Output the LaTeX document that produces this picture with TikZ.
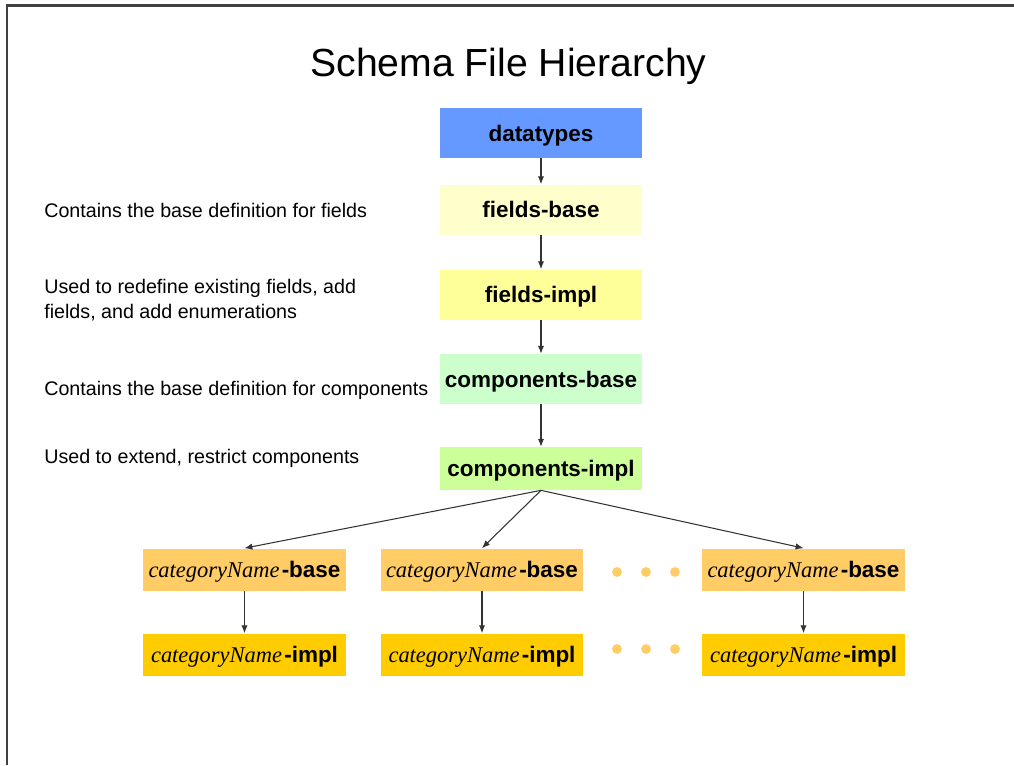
\documentclass[tikz,border=0pt]{standalone}
\usepackage{fontspec}
\setmainfont{Liberation Sans}
\newfontfamily\serifit{Liberation Serif}
\usetikzlibrary{arrows.meta}

\definecolor{dtblue}{HTML}{6699FF}
\definecolor{fbaseyel}{HTML}{FFFFCC}
\definecolor{fimplyel}{HTML}{FFFF99}
\definecolor{cbasegrn}{HTML}{CCFFCC}
\definecolor{cimplgrn}{HTML}{CCFF99}
\definecolor{catbaseorg}{HTML}{FFCC66}
\definecolor{catimplorg}{HTML}{FFCC00}
\definecolor{framegray}{HTML}{404040}

\newcommand{\catname}[1]{{\serifit\itshape\mdseries categoryName\/}\kern1.2pt-#1}

\tikzset{
  box/.style={minimum width=4.04cm, minimum height=1cm, inner sep=0pt,
    text height=9.3pt, text depth=0pt,
    font=\fontsize{12.8}{15}\selectfont\bfseries},
  catbox/.style={box, minimum width=4.05cm, minimum height=0.84cm},
  note/.style={anchor=west, align=left, inner sep=0pt, font=\fontsize{11.2}{14.2}\selectfont},
  link/.style={-{Latex[length=4.5pt,width=3.6pt]}, draw=black!80, line width=0.6pt},
}

\begin{document}
\begin{tikzpicture}[x=0.02cm, y=-0.02cm]
    \useasboundingbox (0,0) rectangle (1014,765);
    \draw[framegray, line width=1.3pt] (7,765) -- (7,5.5) -- (1014,5.5);

    \node[anchor=base, font=\fontsize{22.3}{26}\selectfont] (title) at (508.5,76) {Schema File Hierarchy};

    % main chain
    \node[box, fill=dtblue] (dt) at (541,133) {datatypes};
    \node[box, fill=fbaseyel] (fbase) at (541,209.5) {fields-base};
    \node[box, fill=fimplyel] (fimpl) at (541,294.5) {fields-impl};
    \node[box, fill=cbasegrn] (cbase) at (541,379) {components-base};
    \node[box, fill=cimplgrn, minimum height=0.86cm] (cimpl) at (541,468.5) {components-impl};

    \draw[link] (dt) -- (fbase);
    \draw[link] (fbase) -- (fimpl);
    \draw[link] (fimpl) -- (cbase);
    \draw[link] (cbase) -- (cimpl);

    % notes on the left
    \node[note] (n1) at (44,210) {Contains the base definition for fields};
    \node[note] (n2) at (44,300) {Used to redefine existing fields, add\\fields, and add enumerations};
    \node[note] (n3) at (44,390) {Contains the base definition for components};
    \node[note] (n4) at (44,458) {Used to extend, restrict components};

    % category files
    \node[catbox, fill=catbaseorg] (b1) at (244.5,569.5) {\catname{base}};
    \node[catbox, fill=catbaseorg] (b2) at (482,569.5) {\catname{base}};
    \node[catbox, fill=catbaseorg] (b3) at (803.5,569.5) {\catname{base}};
    \node[catbox, fill=catimplorg] (i1) at (244.5,654.5) {\catname{impl}};
    \node[catbox, fill=catimplorg] (i2) at (482,654.5) {\catname{impl}};
    \node[catbox, fill=catimplorg] (i3) at (803.5,654.5) {\catname{impl}};

    \foreach \b in {b1,b2,b3}
        \draw[link] (cimpl.south) -- (\b.north);
    \draw[link] (b1) -- (i1);
    \draw[link] (b2) -- (i2);
    \draw[link] (b3) -- (i3);

    \foreach \x in {617,646,675} {
        \fill[catbaseorg] (\x,572) circle (2.8pt);
        \fill[catbaseorg] (\x,649) circle (2.8pt);
    }
\end{tikzpicture}
\end{document}
